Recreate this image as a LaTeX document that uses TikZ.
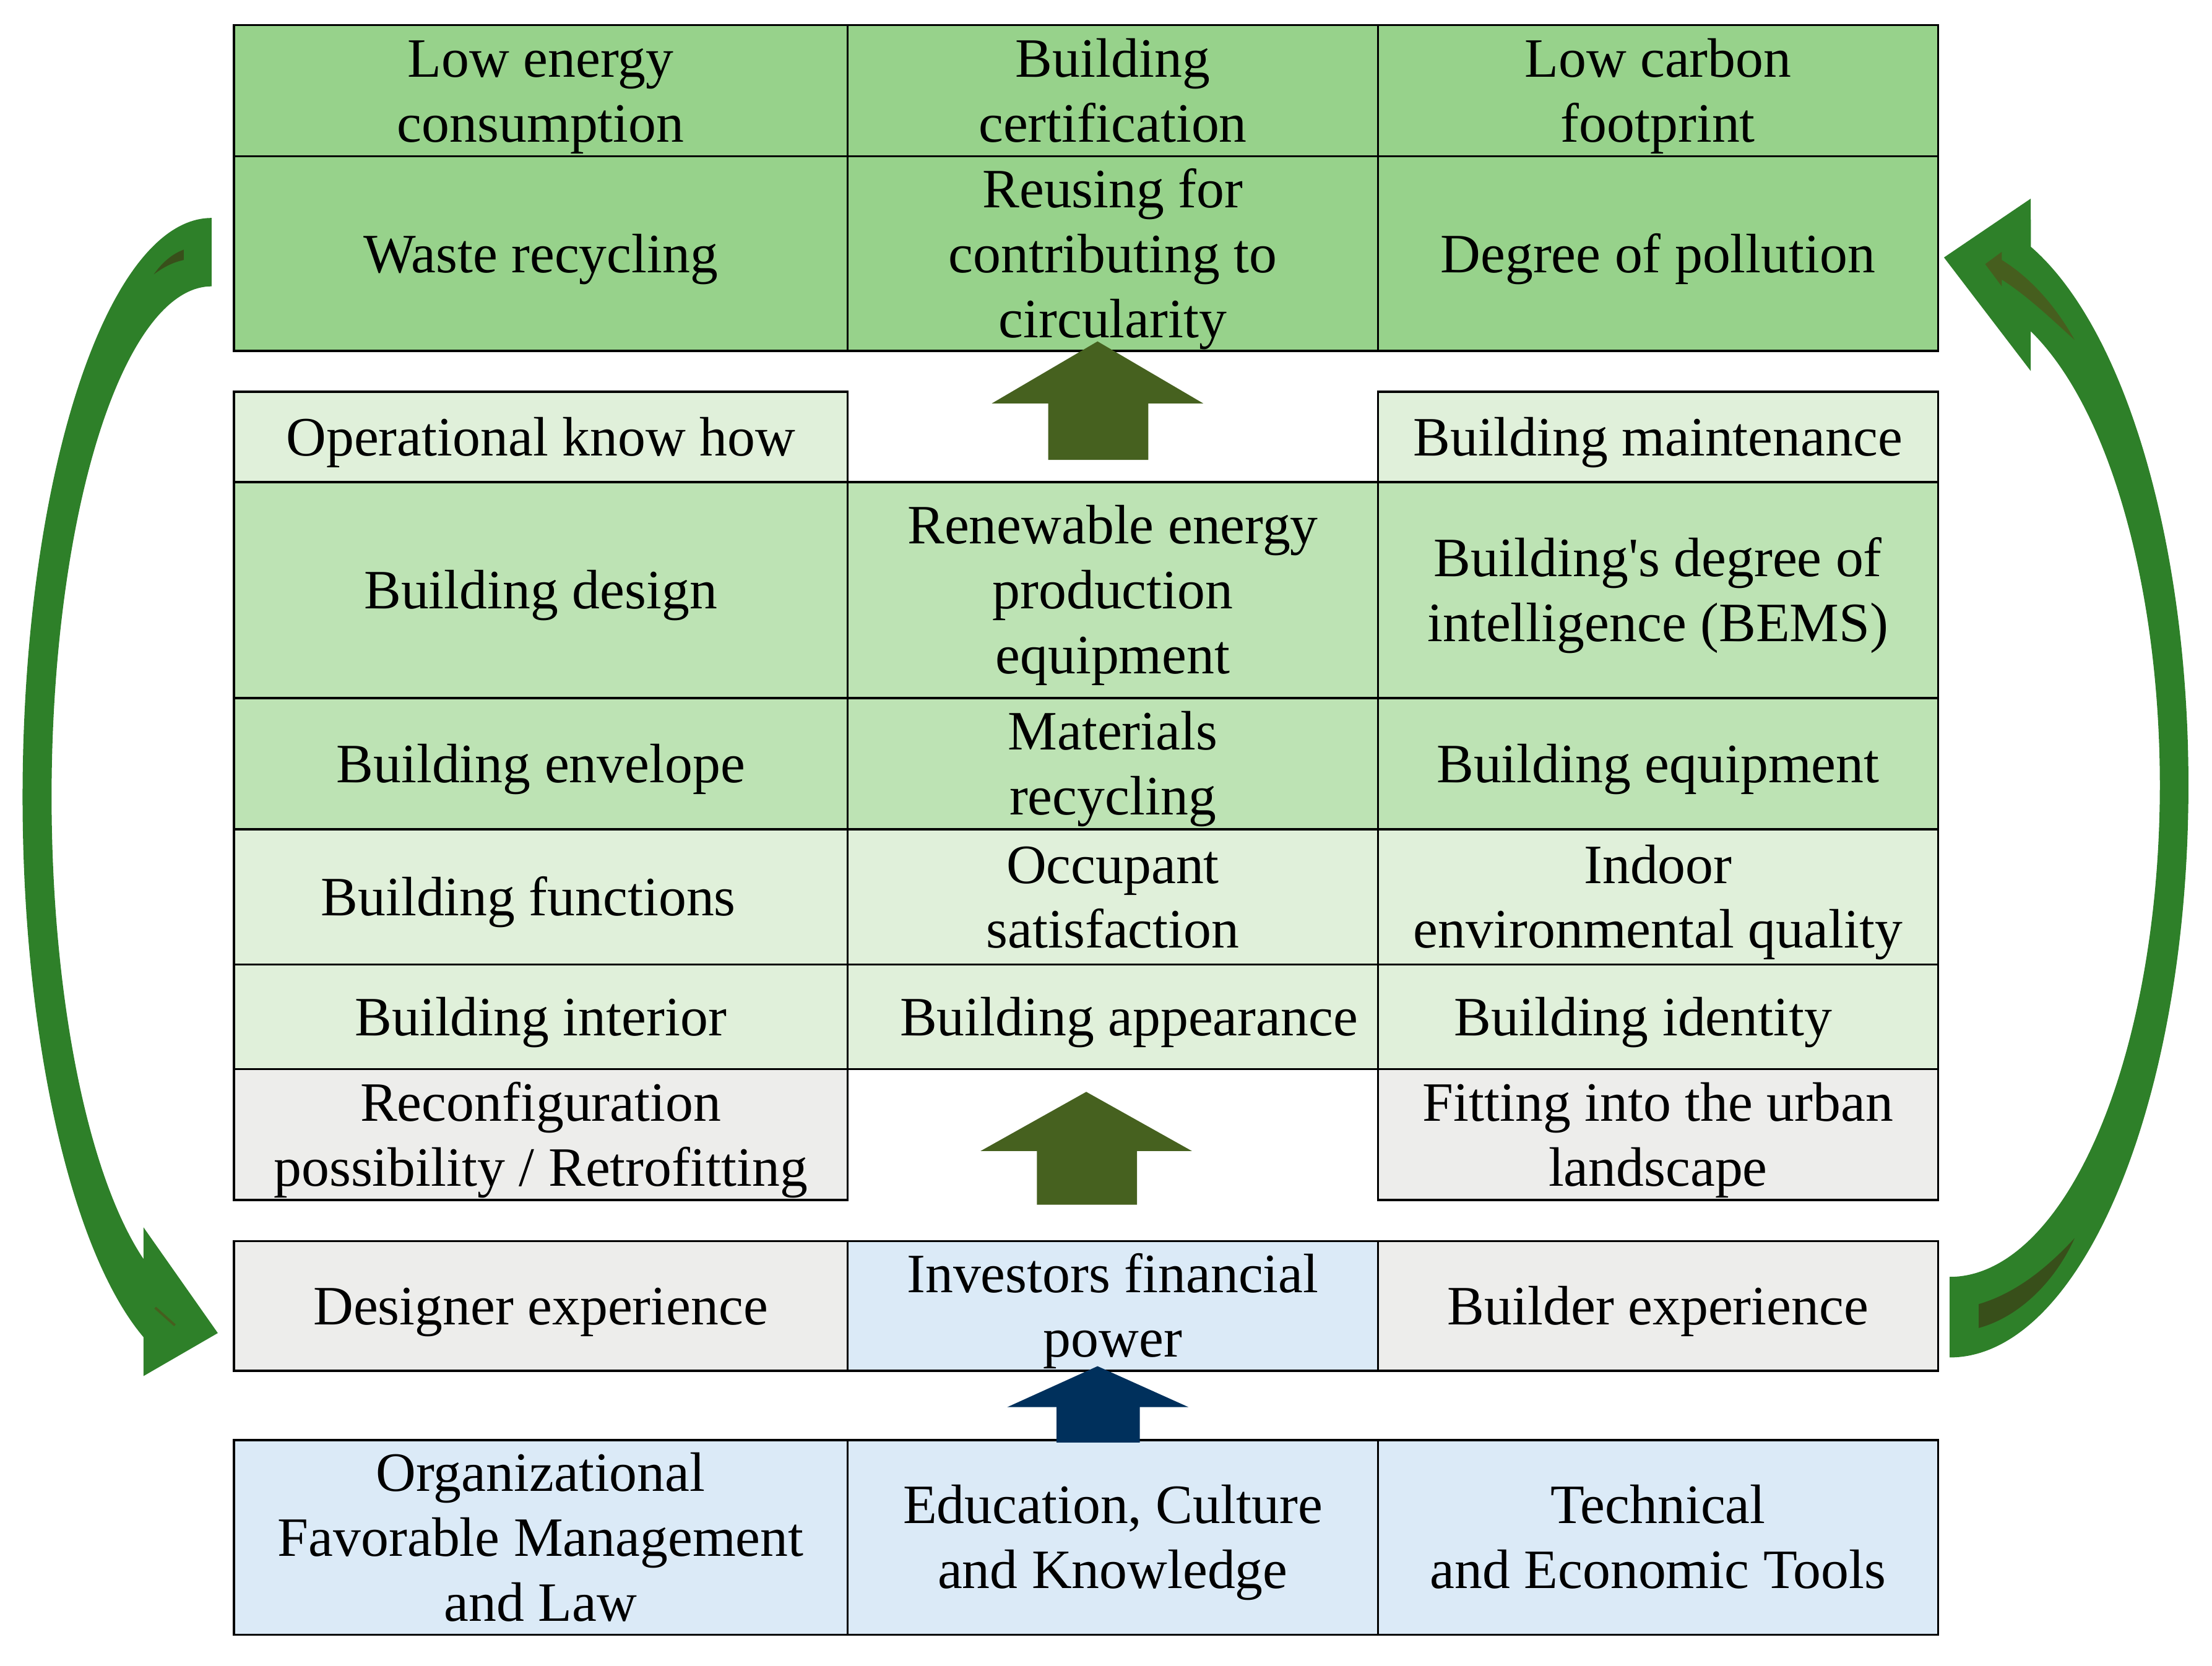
\documentclass[tikz,border=0pt]{standalone}
\usepackage{fontspec}
\setmainfont{Liberation Serif}

\definecolor{topgreen}{HTML}{97D28B}
\definecolor{midgreen}{HTML}{BDE3B4}
\definecolor{palegreen}{HTML}{E0F0DA}
\definecolor{cellgrey}{HTML}{EDEDEB}
\definecolor{cellblue}{HTML}{DBEAF7}
\definecolor{olivearrow}{HTML}{46611F}
\definecolor{navyarrow}{HTML}{00305C}
\definecolor{loopgreen}{HTML}{2E8029}
\definecolor{loopshade}{HTML}{465E1E}
\definecolor{loopdark}{HTML}{384F1A}

% line box as in the slide: ascent 0.891em, descent 0.216em
\newcommand{\cellstrut}{\rule[-2.42pt]{0pt}{12.4pt}}

\tikzset{
    cell/.style={draw=black, line width=0.45pt, anchor=north west, inner sep=0pt,
        align=center, font=\fontsize{11.2}{13.1}\selectfont,
        execute at begin node=\cellstrut, execute at end node=\cellstrut},
    colA/.style={minimum width=43.5mm},
    colB/.style={minimum width=37.6mm},
    colC/.style={minimum width=39.7mm},
}

\begin{document}
\begin{tikzpicture}[x=0.1mm, y=-0.1mm]
    \useasboundingbox (0,0) rectangle (1568,1181);

    % outcomes
    \node [cell, colA, fill=topgreen, minimum height=9.3mm] (lec) at (165,17) {\cellstrut Low energy\\consumption};
    \node [cell, colB, fill=topgreen, minimum height=9.3mm] (bcert) at (600,17) {\cellstrut Building\\certification};
    \node [cell, colC, fill=topgreen, minimum height=9.3mm] (lcf) at (976,17) {\cellstrut Low carbon\\footprint};
    \node [cell, colA, fill=topgreen, minimum height=13.8mm] (waste) at (165,110) {Waste recycling};
    \node [cell, colB, fill=topgreen, minimum height=13.8mm] (reuse) at (600,110) {\cellstrut Reusing for\\contributing to\\circularity};
    \node [cell, colC, fill=topgreen, minimum height=13.8mm] (pollu) at (976,110) {Degree of pollution};

    % building features
    \node [cell, colA, fill=palegreen, minimum height=6.4mm] (okh) at (165,277) {Operational know how};
    \node [cell, colC, fill=palegreen, minimum height=6.4mm] (bmaint) at (976,277) {Building maintenance};
    \node [cell, colA, fill=midgreen, minimum height=15.3mm] (bdes) at (165,341) {Building design};
    \node [cell, colB, fill=midgreen, minimum height=15.3mm] (renew) at (600,341) {\cellstrut Renewable energy\\production\\equipment};
    \node [cell, colC, fill=midgreen, minimum height=15.3mm] (bems) at (976,341) {\cellstrut Building\textquotesingle s degree of\\intelligence (BEMS)};
    \node [cell, colA, fill=midgreen, minimum height=9.3mm] (benv) at (165,494) {Building envelope};
    \node [cell, colB, fill=midgreen, minimum height=9.3mm] (matrec) at (600,494) {\cellstrut Materials\\recycling};
    \node [cell, colC, fill=midgreen, minimum height=9.3mm] (bequip) at (976,494) {Building equipment};
    \node [cell, colA, fill=palegreen, minimum height=9.6mm] (bfunc) at (165,587) {\hspace*{-5pt}Building functions};
    \node [cell, colB, fill=palegreen, minimum height=9.6mm] (occ) at (600,587) {\cellstrut Occupant\\satisfaction};
    \node [cell, colC, fill=palegreen, minimum height=9.6mm] (ieq) at (976,587) {\cellstrut Indoor\\environmental quality};
    \node [cell, colA, fill=palegreen, minimum height=7.4mm] (binter) at (165,683) {Building interior};
    \node [cell, colB, fill=palegreen, minimum height=7.4mm] (bapp) at (600,683) {\hspace*{6.5pt}Building appearance};
    \node [cell, colC, fill=palegreen, minimum height=7.4mm] (bident) at (976,683) {\hspace*{-6pt}Building identity};
    \node [cell, colA, fill=cellgrey, minimum height=9.3mm] (reconf) at (165,757) {\cellstrut Reconfiguration\\possibility / Retrofitting};
    \node [cell, colC, fill=cellgrey, minimum height=9.3mm] (urban) at (976,757) {\cellstrut Fitting into the urban\\landscape};

    % actors
    \node [cell, colA, fill=cellgrey, minimum height=9.2mm] (desexp) at (165,879) {Designer experience};
    \node [cell, colB, fill=cellblue, minimum height=9.2mm] (invest) at (600,879) {\cellstrut Investors financial\\power};
    \node [cell, colC, fill=cellgrey, minimum height=9.2mm] (bldexp) at (976,879) {Builder experience};

    % framework
    \node [cell, colA, fill=cellblue, minimum height=13.8mm] (org) at (165,1020) {\cellstrut Organizational\\Favorable Management\\and Law};
    \node [cell, colB, fill=cellblue, minimum height=13.8mm] (edu) at (600,1020) {\cellstrut Education, Culture\\and Knowledge};
    \node [cell, colC, fill=cellblue, minimum height=13.8mm] (tools) at (976,1020) {\cellstrut Technical\\and Economic Tools};

    % block arrows
    \fill [olivearrow] (778,242) -- (853,286) -- (814,286) -- (814,326)
        -- (743,326) -- (743,286) -- (703,286) -- cycle;
    \fill [olivearrow] (770,774) -- (845,816) -- (806,816) -- (806,854)
        -- (735,854) -- (735,816) -- (695,816) -- cycle;
    \fill [navyarrow] (778,968.5) -- (842.5,997.5) -- (808,997.5) -- (808,1022.6)
        -- (749,1022.6) -- (749,997.5) -- (714,997.5) -- cycle;

    % loop arrows
    \fill [loopgreen] (150,154.5) arc [start angle=270, end angle=111.1, x radius=134, y radius=410.5]
        -- (101.7,975.5) -- (154.4,945) -- (101.7,870) -- (101.7,892.5)
        arc [start angle=115.2, end angle=270, x radius=113.4, y radius=362] -- cycle;
    \fill [loopdark] (109,194.5) .. controls (115,186) and (122,180) .. (130.2,177)
        -- (130.2,184.3) .. controls (122,186) and (115,190) .. cycle;
    \draw [loopshade, line width=0.5pt] (110,927) -- (124,939.5);

    \fill [loopgreen] (1382,962.3) arc [start angle=90, end angle=-70.1, x radius=169.3, y radius=405.8]
        -- (1439.5,140.8) -- (1378,182.5) -- (1439.5,263) -- (1439.5,234.8)
        arc [start angle=-67.3, end angle=90, x radius=149, y radius=348.7] -- cycle;
    \fill [loopshade] (1407.2,187.2) -- (1419,178.5) -- (1419,184.3)
        .. controls (1438,196) and (1456,215) .. (1470.6,241)
        .. controls (1452,224) and (1436,209) .. (1419,198.2) -- (1419,203) -- cycle;
    \fill [loopdark] (1402.6,924.5) -- (1402.6,941.4)
        .. controls (1430,934) and (1456,910) .. (1470.6,877.7)
        .. controls (1450,900) and (1428,917) .. cycle;
\end{tikzpicture}
\end{document}
